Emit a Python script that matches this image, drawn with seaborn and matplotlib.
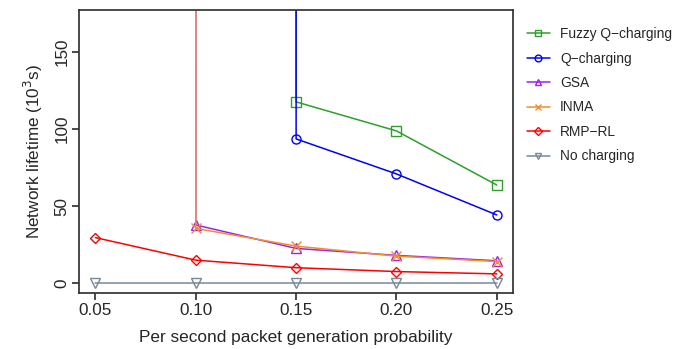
import numpy as np
import pandas as pd
import matplotlib
matplotlib.use("Agg")
import matplotlib.pyplot as plt
import seaborn as sns

# ------------------------------
# Data (lifetime in 10^3 s); 1e6 stands for "never dies" (off the chart)
# ------------------------------
prob = [0.05, 0.10, 0.15, 0.20, 0.25]
fuzzy_q = [1e6, 1e6, 117.5, 98.7, 63.6]
q_charging = [1e6, 1e6, 93.5, 70.8, 44.2]
gsa = [1e6, 37.7, 22.5, 18.0, 14.5]
inma = [1e6, 35.5, 24.0, 17.5, 14.0]
rmp_rl = [29.5, 14.9, 10.0, 7.5, 6.0]
no_charging = [0, 0, 0, 0, 0]

labels = ["Fuzzy Q\u2212charging", "Q\u2212charging", "GSA", "INMA", "RMP\u2212RL", "No charging"]
series = [fuzzy_q, q_charging, gsa, inma, rmp_rl, no_charging]
colors = ["#2ca02c", "#0000ff", "#a020f0", "#f28e2b", "#ff0000", "#778899"]
markers = ["s", "o", "^", "x", "D", "v"]

df = pd.concat([pd.DataFrame({"p": prob, "life": vals, "method": lab})
                for lab, vals in zip(labels, series)], ignore_index=True)

sns.set_theme(style="ticks")
plt.rcParams["font.family"] = ["Liberation Sans", "DejaVu Sans"]

fig, ax = plt.subplots(figsize=(6.73, 3.49), dpi=100)
for lab, col, mk in zip(labels, colors, markers):
    sub = df[df["method"] == lab]
    sns.lineplot(data=sub, x="p", y="life", ax=ax, color=col, marker=mk,
                 markersize=6.5 if mk != "D" else 5.5, markerfacecolor="none",
                 markeredgecolor=col, markeredgewidth=1, linewidth=1.1,
                 label=lab, estimator=None)

ax.set_xlim(0.042, 0.258)
ax.set_ylim(-6.5, 177)
ax.set_xticks(prob)
ax.set_xticklabels(["0.05", "0.10", "0.15", "0.20", "0.25"])
ax.set_yticks([0, 50, 100, 150])
ax.tick_params(axis="both", labelsize=12.3, direction="out", length=5,
               color="#333333", pad=2)
for lbl in ax.get_yticklabels():
    lbl.set_rotation(90)
    lbl.set_va("center")
for sp in ax.spines.values():
    sp.set_visible(True)
    sp.set_color("#333333")
ax.set_xlabel("Per second packet generation probability", fontsize=12.4, labelpad=9)
ax.set_ylabel("Network lifetime (10$^3$s)", fontsize=12.3, labelpad=7)

leg = ax.legend(loc="upper left", bbox_to_anchor=(1.032, 0.94), frameon=False,
                borderpad=0, borderaxespad=0, fontsize=9.9, handlelength=1.7,
                handletextpad=0.72, labelspacing=0.76, markerscale=0.75)

plt.subplots_adjust(left=0.118, right=0.762, top=0.971, bottom=0.16)
plt.savefig("out.png", dpi=100)
